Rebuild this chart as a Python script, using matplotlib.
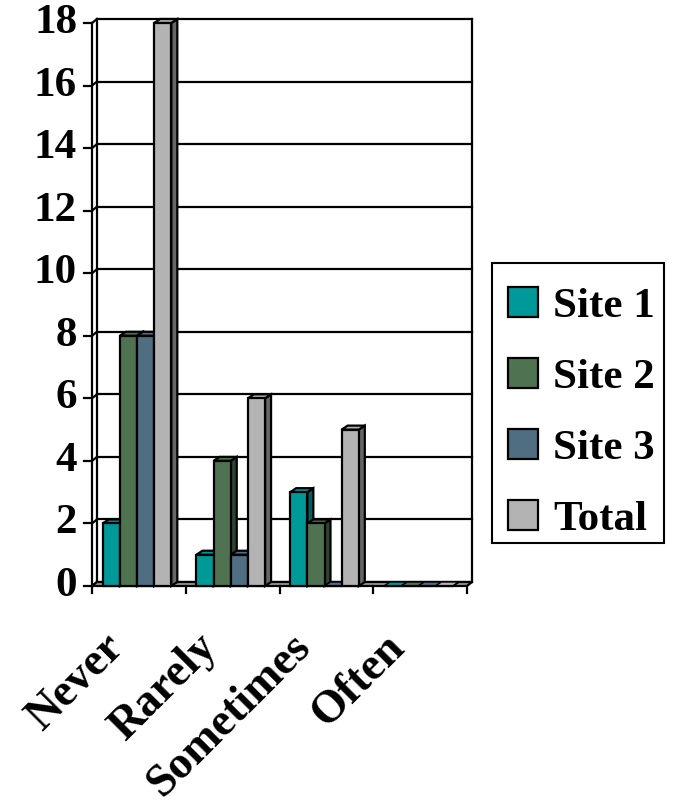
import numpy as np
import matplotlib.pyplot as plt
from matplotlib.patches import Polygon, Rectangle

categories = ['Never', 'Rarely', 'Sometimes', 'Often']
series_names = ['Site 1', 'Site 2', 'Site 3', 'Total']
site1 = [2, 1, 3, 0]
site2 = [8, 4, 2, 0]
site3 = [8, 1, 0, 0]
total = [18, 6, 5, 0]
y_ticks = [0, 2, 4, 6, 8, 10, 12, 14, 16, 18]

face_colors = ['#009999', '#4f7350', '#4f6e82', '#b3b3b3']
side_colors = ['#006060', '#2c4530', '#2e4452', '#666666']

plt.rcParams['font.family'] = ['Liberation Serif', 'DejaVu Serif']
plt.rcParams['font.weight'] = 'bold'

fig = plt.figure(figsize=(6.77, 8.06), dpi=100)
W, H = 677, 806
ax = fig.add_axes([92 / W, 220 / H, 375 / W, 563 / H])
ax.set_xlim(0, 4)
ax.set_ylim(0, 18)
ax.axis('off')

px_x = 4 / 375.0
px_y = 18 / 563.0
bdx, bdy = 5 * px_x, 4 * px_y   # depth of back wall
dx, dy = 6 * px_x, 4 * px_y     # depth of bars

lw = 1.6
# back wall gridlines
for t in y_ticks:
    ax.plot([bdx, 4 + bdx], [t + bdy, t + bdy], color='black', lw=lw, zorder=1, clip_on=False)
ax.plot([4 + bdx, 4 + bdx], [bdy, 18 + bdy], color='black', lw=lw, zorder=1, clip_on=False)
# left wall
ax.plot([bdx, bdx], [bdy, 18 + bdy], color='black', lw=lw, zorder=1, clip_on=False)
ax.plot([0, 0], [0, 18], color='black', lw=lw, zorder=1, clip_on=False)
for t in y_ticks:
    ax.plot([0, bdx], [t, t + bdy], color='black', lw=lw, zorder=1, clip_on=False)
# floor
floor = Polygon([[0, 0], [4, 0], [4 + bdx, bdy], [bdx, bdy]], closed=True,
                facecolor='#999999', edgecolor='black', lw=lw, zorder=1, clip_on=False)
ax.add_patch(floor)

# y ticks and labels
for t in y_ticks:
    ax.plot([-8 * px_x, 0], [t, t], color='black', lw=lw, clip_on=False)
    ax.text(-15 * px_x, t, str(t), ha='right', va='center', fontsize=31, fontweight='bold')

# category ticks
for i in range(5):
    ax.plot([i, i], [0, -7 * px_y], color='black', lw=lw, clip_on=False)

for i, c in enumerate(categories):
    ax.text(i + 0.11, -40 * px_y, c, rotation=45, rotation_mode='anchor',
            ha='right', va='top', fontsize=33, fontweight='bold')

offset0 = 0.114
bw = 0.183
data = [site1, site2, site3, total]
handles = []
x = np.arange(len(categories))
for k, (name, vals) in enumerate(zip(series_names, data)):
    left = x + offset0 + k * bw
    bars = ax.bar(left, vals, width=bw, align='edge', color=face_colors[k],
                  edgecolor='black', linewidth=lw, zorder=3 + k, label=name, clip_on=False)
    handles.append(bars)
    for l, v in zip(left, vals):
        side = Polygon([[l + bw, 0], [l + bw + dx, dy], [l + bw + dx, v + dy], [l + bw, v]],
                       closed=True, facecolor=side_colors[k], edgecolor='black', lw=lw,
                       zorder=2.5 + k, clip_on=False)
        top = Polygon([[l, v], [l + bw, v], [l + bw + dx, v + dy], [l + dx, v + dy]],
                      closed=True, facecolor=face_colors[k],
                      edgecolor='black', lw=lw if v > 0 else 1.0, zorder=2.5 + k, clip_on=False)
        ax.add_patch(side)
        ax.add_patch(top)

# legend box
fig.patches.append(Rectangle((492 / W, 1 - 543 / H), 172 / W, 280 / H,
                             transform=fig.transFigure, facecolor='white',
                             edgecolor='black', lw=1.5, zorder=5))
leg = fig.legend(handles=handles, labels=series_names, loc='center left',
                 bbox_to_anchor=(508 / W, 1 - 413 / H),
                 prop={'family': ['Liberation Serif'], 'weight': 'bold', 'size': 31},
                 frameon=False, handlelength=0.7, handleheight=0.7,
                 handletextpad=0.35, labelspacing=0.74, borderpad=0, borderaxespad=0)
leg.set_zorder(6)

fig.savefig('out.png', dpi=100)
